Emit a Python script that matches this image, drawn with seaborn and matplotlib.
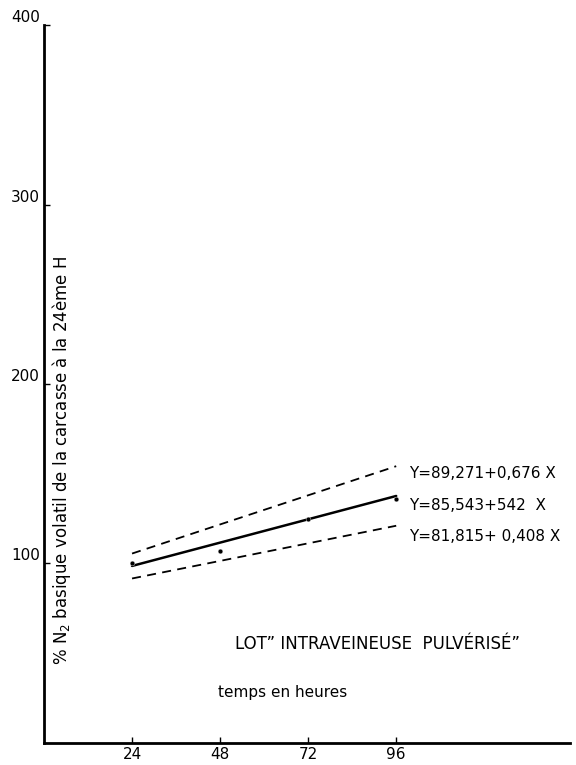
import numpy as np
import pandas as pd
import seaborn as sns
import matplotlib.pyplot as plt

# valeurs
heures = [24, 48, 72, 96]
observe = [100, 107, 125, 136]

fit_x = [24, 96]
fit_mid = [98.6, 137.6]    # Y=85,543+542 X
fit_haut = [105.5, 154.2]  # Y=89,271+0,676 X
fit_bas = [91.6, 121.0]    # Y=81,815+0,408 X

equations = ["Y=89,271+0,676 X", "Y=85,543+542  X", "Y=81,815+ 0,408 X"]
eq_y = [150, 132.5, 115]

yticks = [100, 200, 300, 400]

sns.set_theme(style="white")
plt.rcParams['font.family'] = ['DejaVu Sans']
plt.rcParams['text.color'] = 'black'
plt.rcParams['axes.labelcolor'] = 'black'
plt.rcParams['xtick.color'] = 'black'
plt.rcParams['ytick.color'] = 'black'

fig = plt.figure(figsize=(5.76, 7.65), dpi=100)
ax = fig.add_axes([0.0764, 0.029, 0.914, 0.938])

df_fit = pd.DataFrame({"x": fit_x * 3,
                       "y": fit_mid + fit_haut + fit_bas,
                       "courbe": ["mid"] * 2 + ["haut"] * 2 + ["bas"] * 2})

sns.lineplot(data=df_fit[df_fit.courbe == "mid"], x="x", y="y", color="black", lw=1.8, ax=ax)
for c in ["haut", "bas"]:
    sns.lineplot(data=df_fit[df_fit.courbe == c], x="x", y="y", color="black", lw=1.3,
                 ax=ax, linestyle=(0, (5, 3.5)))
sns.scatterplot(x=heures, y=observe, color="black", s=12, ax=ax, zorder=5)

for txt, yy in zip(equations, eq_y):
    ax.text(99.5, yy, txt, fontsize=11, va="center", ha="left")

ax.text(91, 55, "LOT\u201d INTRAVEINEUSE  PULV\u00c9RIS\u00c9\u201d", fontsize=12,
        ha="center", va="center")
ax.text(65, 28, "temps en heures", fontsize=11, ha="center", va="center")

ax.set_ylabel("% N$_2$ basique volatil de la carcasse \u00e0 la 24\u00e8me H", fontsize=12)
ax.yaxis.set_label_coords(0.055, 0.394)

ax.set_xlim(0, 143.5)
ax.set_ylim(0, 400)
ax.set_xticks(heures)
ax.set_yticks(yticks)
ax.set_xlabel("")
ax.tick_params(axis="both", direction="in", length=4, width=1, labelsize=11,
               bottom=True, left=True, pad=3)
for lab in ax.get_yticklabels():
    lab.set_va("bottom")

sns.despine(ax=ax)
ax.spines["left"].set_linewidth(2)
ax.spines["bottom"].set_linewidth(2)
ax.spines["left"].set_color("black")
ax.spines["bottom"].set_color("black")

fig.savefig("out.png", dpi=100)
